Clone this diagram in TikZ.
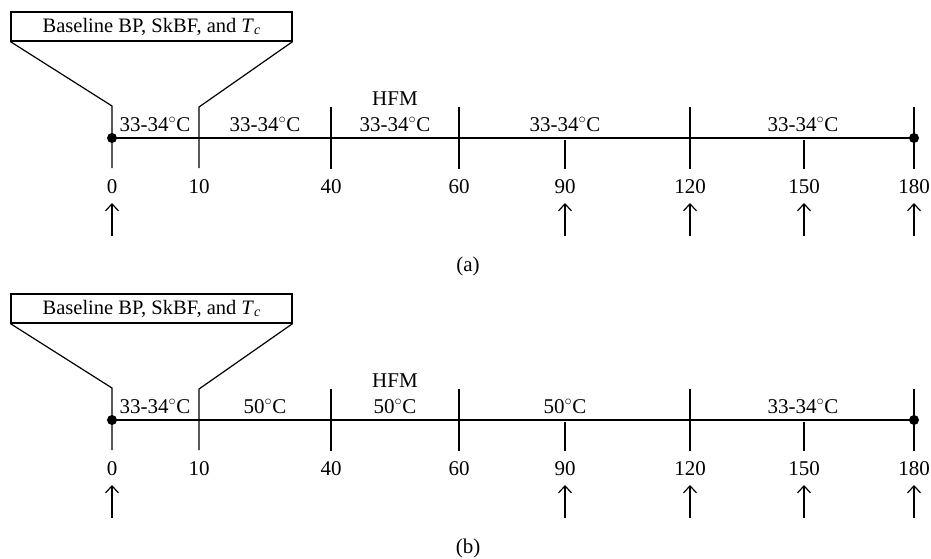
\documentclass[tikz,border=0pt]{standalone}
\usepackage{fontspec}
\setmainfont{Liberation Serif}
\usetikzlibrary{arrows.meta}
\tikzset{
  every picture/.style={line width=1.2pt},
  lbl/.style={font=\fontsize{21}{25}\selectfont, inner sep=0pt, anchor=base},
  hdr/.style={draw, line width=1.2pt, minimum width=281pt, minimum height=29pt, inner sep=0pt, font=\fontsize{20.5}{24}\selectfont},
  tdot/.style={circle, fill, inner sep=0pt, minimum size=10pt},
  uparrow/.style={-{Straight Barb[length=7pt,width=13pt]}},
}
\newcommand{\degC}{$^\circ$C}
\begin{document}
\begin{tikzpicture}[x=1pt,y=-1pt]
\useasboundingbox (0,0) rectangle (931,558);
\foreach \p/\dy/\sa/\sb/\sc in {a/0/33-34/33-34/33-34, b/282/50/50/50}{
 \begin{scope}[shift={(0,\dy)}]
  % header box and funnel
  \node[hdr] (\p box) at (151.5,26.5) {Baseline BP, SkBF, and \textit{T}\raisebox{-0.25ex}{\fontsize{14}{16}\selectfont\textit{c}}};
  \coordinate (\p f0) at (112,106);
  \coordinate (\p f10) at (199,107);
  % timeline
  \node[tdot] (\p d0) at (112,138) {};
  \node[tdot] (\p d180) at (914,138) {};
  \draw (\p d0.center) -- (\p d180.center);
  % long ticks
  \coordinate (\p b0) at (112,168);
  \coordinate (\p b10) at (199,168);
  \draw (\p box.south west) -- (\p f0) -- (\p b0);
  \draw (\p box.south east) -- (\p f10) -- (\p b10);
  \foreach \x/\t in {331/40,459/60,690/120,914/180}{
    \coordinate (\p u\t) at (\x,107);
    \coordinate (\p b\t) at (\x,169);
    \draw (\p u\t) -- (\p b\t);
  }
  \foreach \x/\t in {565/90,804/150}{
    \coordinate (\p u\t) at (\x,140);
    \coordinate (\p b\t) at (\x,169);
    \draw (\p u\t) -- (\p b\t);
  }
  % tick labels
  \foreach \x/\t in {112/0,199/10,331/40,459/60,565/90,690/120,804/150,914/180}{
    \node[lbl] (\p l\t) at (\x,193) {\t};
  }
  % arrows
  \foreach \x/\t in {112/0,565/90,690/120,804/150,914/180}{
    \coordinate (\p as\t) at (\x,236);
    \coordinate (\p ae\t) at (\x,203);
    \draw[uparrow] (\p as\t) -- (\p ae\t);
  }
  % segment labels
  \node[lbl] (\p s1) at (155,131.5) {33-34\degC};
  \node[lbl] (\p s2) at (265,131.5) {\sa\degC};
  \node[lbl] (\p hfm) at (395,105) {HFM};
  \node[lbl] (\p s3) at (395,131.5) {\sb\degC};
  \node[lbl] (\p s4) at (565,131.5) {\sc\degC};
  \node[lbl] (\p s5) at (803,131.5) {33-34\degC};
  % caption
  \node[lbl] (\p cap) at (468,271) {(\p)};
 \end{scope}
}
\end{tikzpicture}
\end{document}
